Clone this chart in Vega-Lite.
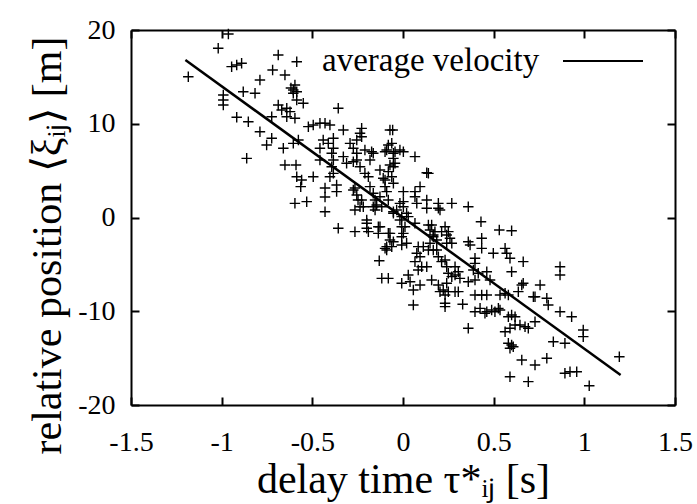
{
"$schema": "https://vega.github.io/schema/vega-lite/v6.json",
"width": 544, "height": 375,
"autosize": {"type": "none"},
"padding": {"left": 131, "top": 30, "right": 22, "bottom": 99},
"background": "white",
"config": {
  "view": {"stroke": null},
  "font": "Liberation Serif",
  "axis": {"domainColor": "black", "domainWidth": 2, "tickColor": "black", "tickWidth": 2, "tickSize": -8, "grid": false,
    "labelFont": "Liberation Serif", "labelFontSize": 28, "labelColor": "black", "labelFlush": false, "labelOverlap": false,
    "titleFont": "Liberation Serif", "titleFontSize": 42, "titleFontWeight": "normal", "titleColor": "black"}
},
"datasets": {
"fit": [{"tau": -1.2, "xi": 16.8, "series": "average velocity"}, {"tau": 1.2, "xi": -16.8, "series": "average velocity"}],
"pts": [
{"tau":-0.963,"xi":19.57},{"tau":-1.019,"xi":18.05},{"tau":-0.688,"xi":17.33},{"tau":-0.586,"xi":16.62},{"tau":-0.945,"xi":16.09},{"tau":-0.917,"xi":16.27},{"tau":-0.890,"xi":16.45},{"tau":-1.184,"xi":15.02},{"tau":-0.719,"xi":15.73},{"tau":-0.651,"xi":15.20},
{"tau":-0.789,"xi":14.67},{"tau":-0.596,"xi":14.13},{"tau":-0.605,"xi":13.60},{"tau":-0.586,"xi":13.42},{"tau":-0.605,"xi":13.25},{"tau":-0.618,"xi":13.81},{"tau":-0.881,"xi":13.42},{"tau":-0.816,"xi":13.25},{"tau":-0.991,"xi":13.07},{"tau":-0.991,"xi":12.53},
{"tau":-0.991,"xi":12.00},{"tau":-0.586,"xi":12.53},{"tau":-0.550,"xi":12.18},{"tau":-0.688,"xi":12.00},{"tau":-0.669,"xi":11.47},{"tau":-0.641,"xi":11.65},{"tau":-0.623,"xi":11.29},{"tau":-0.641,"xi":10.75},{"tau":-0.596,"xi":10.58},{"tau":-0.357,"xi":11.65},
{"tau":-0.917,"xi":10.69},{"tau":-0.853,"xi":10.22},{"tau":-0.724,"xi":10.75},{"tau":-0.522,"xi":9.69},{"tau":-0.495,"xi":9.87},{"tau":-0.458,"xi":10.05},{"tau":-0.430,"xi":10.05},{"tau":-0.403,"xi":9.87},{"tau":-0.329,"xi":9.33},{"tau":-0.228,"xi":9.51},
{"tau":-0.237,"xi":8.98},{"tau":-0.228,"xi":8.62},{"tau":-0.072,"xi":9.33},{"tau":-0.789,"xi":9.15},{"tau":-0.724,"xi":8.45},{"tau":-0.752,"xi":7.73},{"tau":-0.577,"xi":8.27},{"tau":-0.605,"xi":7.91},{"tau":-0.660,"xi":7.38},{"tau":-0.440,"xi":8.27},
{"tau":-0.412,"xi":7.91},{"tau":-0.384,"xi":8.45},{"tau":-0.384,"xi":7.38},{"tau":-0.458,"xi":7.38},{"tau":-0.292,"xi":7.91},{"tau":-0.274,"xi":7.38},{"tau":-0.255,"xi":8.27},{"tau":-0.210,"xi":7.20},{"tau":-0.173,"xi":7.02},{"tau":-0.255,"xi":6.85},
{"tau":-0.081,"xi":7.73},{"tau":-0.053,"xi":6.85},{"tau":-0.017,"xi":7.20},{"tau":-0.862,"xi":6.31},{"tau":-0.329,"xi":6.49},{"tau":-0.651,"xi":5.60},{"tau":-0.590,"xi":5.60},{"tau":-0.586,"xi":4.35},{"tau":-0.559,"xi":4.00},{"tau":-0.564,"xi":3.29},
{"tau":-0.495,"xi":4.35},{"tau":-0.596,"xi":1.51},{"tau":-0.531,"xi":1.69},{"tau":-0.430,"xi":3.15},{"tau":-0.430,"xi":2.19},{"tau":-0.430,"xi":0.62},{"tau":-0.366,"xi":3.47},{"tau":-0.366,"xi":2.76},{"tau":-0.458,"xi":6.13},{"tau":-0.393,"xi":6.85},
{"tau":-0.384,"xi":6.13},{"tau":-0.393,"xi":5.42},{"tau":-0.384,"xi":4.71},{"tau":-0.403,"xi":4.35},{"tau":-0.255,"xi":6.13},{"tau":-0.237,"xi":5.42},{"tau":-0.265,"xi":3.15},{"tau":-0.255,"xi":2.40},{"tau":-0.248,"xi":1.87},{"tau":-0.237,"xi":1.15},
{"tau":-0.182,"xi":6.13},{"tau":-0.164,"xi":6.85},{"tau":-0.191,"xi":4.35},{"tau":-0.182,"xi":3.29},{"tau":-0.154,"xi":1.87},{"tau":-0.164,"xi":1.15},{"tau":-0.099,"xi":7.02},{"tau":-0.099,"xi":4.00},{"tau":-0.099,"xi":3.29},{"tau":-0.117,"xi":1.15},
{"tau":-0.081,"xi":1.87},{"tau":-0.357,"xi":-1.15},{"tau":-0.265,"xi":-1.51},{"tau":-0.200,"xi":-0.62},{"tau":-0.200,"xi":-1.15},{"tau":-0.191,"xi":-1.51},{"tau":-0.136,"xi":-0.98},{"tau":-0.136,"xi":-1.69},{"tau":-0.099,"xi":-3.29},{"tau":-0.131,"xi":-4.61},
{"tau":-0.081,"xi":-6.49},{"tau":-0.154,"xi":0.80},{"tau":-0.311,"xi":5.78},{"tau":-0.274,"xi":5.95},{"tau":-0.210,"xi":4.71},{"tau":-0.274,"xi":2.93},{"tau":-0.228,"xi":1.87},{"tau":-0.219,"xi":1.15},{"tau":-0.265,"xi":0.80},{"tau":-0.200,"xi":-0.27},
{"tau":-0.127,"xi":-0.98},{"tau":-0.164,"xi":2.58},{"tau":-0.145,"xi":1.33},{"tau":-0.127,"xi":2.22},{"tau":-0.127,"xi":5.07},{"tau":-0.109,"xi":4.18},{"tau":-0.090,"xi":2.76},{"tau":-0.062,"xi":4.35},{"tau":-0.053,"xi":5.42},{"tau":-0.072,"xi":5.60},
{"tau":-0.072,"xi":-1.69},{"tau":-0.072,"xi":-2.40},{"tau":-0.090,"xi":-3.11},{"tau":-0.053,"xi":-2.58},{"tau":-0.007,"xi":-7.02},{"tau":-0.017,"xi":1.51},{"tau":-0.007,"xi":0.09},{"tau":-0.007,"xi":-0.98},{"tau":-0.007,"xi":-2.05},{"tau":-0.007,"xi":-2.93},
{"tau":-0.035,"xi":0.80},{"tau":-0.053,"xi":0.45},{"tau":0.131,"xi":4.78},{"tau":0.094,"xi":3.29},{"tau":0.066,"xi":2.76},{"tau":0.066,"xi":2.22},{"tau":0.076,"xi":1.51},{"tau":0.131,"xi":1.87},{"tau":0.131,"xi":0.98},{"tau":0.195,"xi":1.51},
{"tau":0.195,"xi":0.98},{"tau":0.204,"xi":0.80},{"tau":0.269,"xi":1.51},{"tau":0.360,"xi":1.15},{"tau":0.430,"xi":-0.45},{"tau":0.531,"xi":-1.33},{"tau":0.599,"xi":-1.41},{"tau":0.020,"xi":0.45},{"tau":0.029,"xi":0.09},{"tau":0.066,"xi":-0.62},
{"tau":0.158,"xi":-0.80},{"tau":0.149,"xi":-1.33},{"tau":0.167,"xi":-1.87},{"tau":0.232,"xi":-0.98},{"tau":0.250,"xi":-1.51},{"tau":0.259,"xi":-2.22},{"tau":0.269,"xi":-2.75},{"tau":0.241,"xi":-1.87},{"tau":0.360,"xi":-2.58},{"tau":0.370,"xi":-2.93},
{"tau":0.434,"xi":-2.22},{"tau":0.434,"xi":-3.29},{"tau":0.498,"xi":-3.82},{"tau":0.563,"xi":-3.29},{"tau":0.572,"xi":-3.82},{"tau":0.590,"xi":-4.35},{"tau":0.663,"xi":-4.71},{"tau":0.599,"xi":-5.78},{"tau":0.866,"xi":-5.25},{"tau":0.866,"xi":-6.13},
{"tau":0.084,"xi":-3.11},{"tau":0.076,"xi":-3.82},{"tau":0.094,"xi":-4.18},{"tau":0.066,"xi":-4.71},{"tau":0.084,"xi":-5.60},{"tau":0.131,"xi":-5.25},{"tau":0.186,"xi":-2.40},{"tau":0.186,"xi":-3.47},{"tau":0.195,"xi":-4.18},{"tau":0.232,"xi":-4.53},
{"tau":0.241,"xi":-5.25},{"tau":0.250,"xi":-5.95},{"tau":0.287,"xi":-5.25},{"tau":0.287,"xi":-6.13},{"tau":0.305,"xi":-5.78},{"tau":0.397,"xi":-4.35},{"tau":0.397,"xi":-4.89},{"tau":0.388,"xi":-5.60},{"tau":0.415,"xi":-5.95},{"tau":0.462,"xi":-5.78},
{"tau":0.480,"xi":-6.67},{"tau":0.158,"xi":-6.67},{"tau":0.195,"xi":-7.20},{"tau":0.241,"xi":-7.02},{"tau":0.314,"xi":-6.49},{"tau":0.360,"xi":-6.85},{"tau":0.397,"xi":-6.67},{"tau":0.029,"xi":-6.13},{"tau":0.039,"xi":-6.85},{"tau":0.094,"xi":-7.20},
{"tau":0.655,"xi":-7.20},{"tau":0.756,"xi":-7.20},{"tau":0.728,"xi":-8.45},{"tau":0.793,"xi":-8.62},{"tau":0.801,"xi":-9.33},{"tau":0.866,"xi":-10.05},{"tau":0.930,"xi":-10.58},{"tau":0.994,"xi":-12.00},{"tau":0.994,"xi":-12.71},{"tau":0.829,"xi":-13.25},
{"tau":0.893,"xi":-13.42},{"tau":1.193,"xi":-14.85},{"tau":0.893,"xi":-16.62},{"tau":0.921,"xi":-16.45},{"tau":0.958,"xi":-16.45},{"tau":1.027,"xi":-17.94},{"tau":0.793,"xi":-15.02},{"tau":0.728,"xi":-15.73},{"tau":0.655,"xi":-15.20},{"tau":0.691,"xi":-17.51},
{"tau":0.590,"xi":-16.98},{"tau":0.599,"xi":-13.60},{"tau":0.608,"xi":-13.78},{"tau":0.590,"xi":-13.95},{"tau":0.581,"xi":-13.42},{"tau":0.563,"xi":-12.18},{"tau":0.590,"xi":-11.82},{"tau":0.618,"xi":-11.47},{"tau":0.645,"xi":-11.47},{"tau":0.673,"xi":-11.65},
{"tau":0.691,"xi":-11.82},{"tau":0.599,"xi":-10.40},{"tau":0.618,"xi":-10.58},{"tau":0.581,"xi":-10.58},{"tau":0.360,"xi":-11.82},{"tau":0.397,"xi":-10.05},{"tau":0.425,"xi":-9.69},{"tau":0.462,"xi":-10.05},{"tau":0.489,"xi":-9.87},{"tau":0.526,"xi":-9.69},
{"tau":0.329,"xi":-9.26},{"tau":0.232,"xi":-9.15},{"tau":0.232,"xi":-9.51},{"tau":0.057,"xi":-9.33},{"tau":0.535,"xi":-8.27},{"tau":0.581,"xi":-8.27},{"tau":0.563,"xi":-8.09},{"tau":0.663,"xi":-7.02},{"tau":0.719,"xi":-8.45},{"tau":0.232,"xi":-8.27},
{"tau":0.204,"xi":-7.91},{"tau":0.250,"xi":-7.91},{"tau":0.287,"xi":-7.91},{"tau":0.434,"xi":-8.27},{"tau":0.462,"xi":-8.27},{"tau":0.397,"xi":-8.27},{"tau":0.452,"xi":-10.22},{"tau":0.507,"xi":-10.05},{"tau":0.535,"xi":-9.87},{"tau":0.636,"xi":-7.91},
{"tau":0.728,"xi":-11.12},{"tau":-0.057,"xi":9.33},{"tau":-0.062,"xi":7.91},{"tau":-0.090,"xi":7.20},{"tau":-0.044,"xi":7.02},{"tau":0.002,"xi":7.02},{"tau":0.066,"xi":6.49},{"tau":-0.053,"xi":6.31},{"tau":-0.044,"xi":5.78},{"tau":-0.081,"xi":4.89},
{"tau":0.140,"xi":4.71},{"tau":0.002,"xi":2.76},{"tau":0.002,"xi":1.69},{"tau":-0.053,"xi":3.65},{"tau":-0.053,"xi":0.62},{"tau":0.002,"xi":1.15},{"tau":-0.017,"xi":-0.27},{"tau":0.011,"xi":-0.98},{"tau":0.002,"xi":-1.69},{"tau":0.020,"xi":-2.75},
{"tau":-0.081,"xi":-1.69},{"tau":-0.062,"xi":-3.11},{"tau":-0.090,"xi":-3.47},{"tau":-0.117,"xi":-6.49},{"tau":0.057,"xi":-7.73},{"tau":0.140,"xi":-0.80},{"tau":0.176,"xi":-1.51},{"tau":0.167,"xi":-2.05},{"tau":0.149,"xi":-2.75},{"tau":0.167,"xi":-3.47},
{"tau":0.140,"xi":-3.47},{"tau":0.213,"xi":-1.51},{"tau":0.241,"xi":-2.75},{"tau":0.103,"xi":-5.25},{"tau":0.112,"xi":-3.11},{"tau":0.213,"xi":-4.71},{"tau":0.269,"xi":-6.31},{"tau":0.222,"xi":-7.73},{"tau":0.305,"xi":-7.91}
]
},
"layer": [
  {
    "data": {"name": "pts"},
    "mark": {"type": "point", "shape": "M-1,0L1,0M0,-1L0,1", "filled": false, "stroke": "black", "strokeWidth": 1.4, "size": 110, "opacity": 1},
    "encoding": {
      "x": {"field": "tau", "type": "quantitative", "scale": {"domain": [-1.5, 1.5], "nice": false, "zero": false},
        "axis": {"orient": "bottom", "values": [-1.5, -1, -0.5, 0, 0.5, 1, 1.5], "labelExpr": "datum.value + ''", "labelPadding": 31,
          "title": "delay time τ*ᵢⱼ [s]", "titleY": 87, "titleBaseline": "alphabetic"}},
      "y": {"field": "xi", "type": "quantitative", "scale": {"domain": [-20, 20], "nice": false, "zero": false},
        "axis": {"orient": "left", "values": [-20, -10, 0, 10, 20], "labelExpr": "datum.value + ''", "labelPadding": 24,
          "title": "relative position ⟨ξᵢⱼ⟩ [m]", "titleX": -71, "titleY": 215, "titleAngle": -90, "titleBaseline": "alphabetic", "titleAlign": "center"}}
    }
  },
  {
    "data": {"name": "fit"},
    "mark": {"type": "line", "strokeWidth": 2.5},
    "encoding": {
      "x": {"field": "tau", "type": "quantitative", "scale": {"domain": [-1.5, 1.5], "nice": false, "zero": false},
        "axis": {"orient": "top", "values": [-1.5, -1, -0.5, 0, 0.5, 1, 1.5], "labels": false, "title": null}},
      "y": {"field": "xi", "type": "quantitative", "scale": {"domain": [-20, 20], "nice": false, "zero": false},
        "axis": {"orient": "right", "values": [-20, -10, 0, 10, 20], "labels": false, "title": null}},
      "color": {"field": "series", "type": "nominal", "scale": {"range": ["black"]},
        "legend": {"orient": "none", "legendX": 189, "legendY": -10, "title": null, "padding": 0, "symbolType": "stroke", "symbolSize": 6400,
          "symbolStrokeWidth": 2, "labelFont": "Liberation Serif", "labelFontSize": 33, "labelColor": "black", "labelLimit": 0,
          "labelOffset": -322, "symbolOffset": 242}}
    }
  }
],
"resolve": {"axis": {"x": "independent", "y": "independent"}}
}
